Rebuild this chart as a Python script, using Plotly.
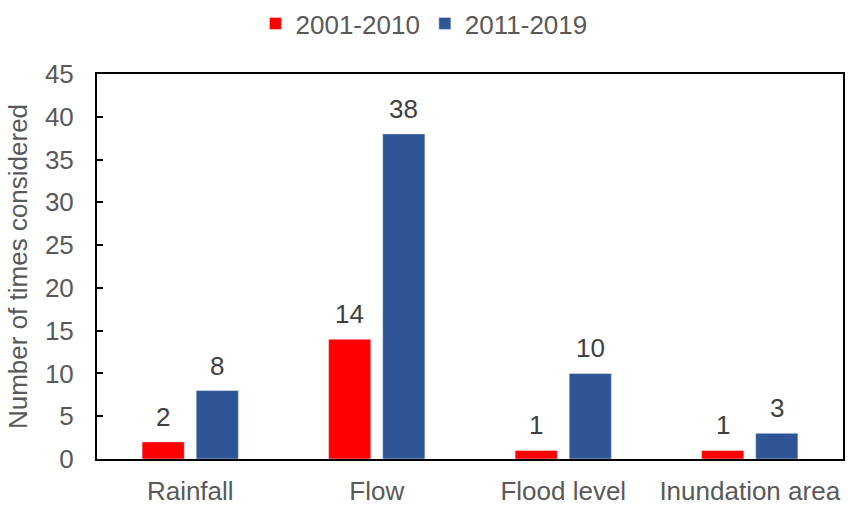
import plotly.graph_objects as go

categories = ['Rainfall', 'Flow', 'Flood level', 'Inundation area']
period_2001_2010 = [2, 14, 1, 1]
period_2011_2019 = [8, 38, 10, 3]

FONT = 'Liberation Sans, Arial, sans-serif'
GREY = '#595959'
SIZE = 26

fig = go.Figure()

series = [
    ('2001-2010', period_2001_2010, '#FF0000', -27),
    ('2011-2019', period_2011_2019, '#2F5597', 27),
]

for name, values, color, shift in series:
    fig.add_trace(go.Bar(
        x=categories,
        y=values,
        name=name,
        marker=dict(color=color),
    ))
    # value labels above each bar
    for cat, val in zip(categories, values):
        fig.add_annotation(
            x=cat, y=val, text=str(val),
            showarrow=False, yanchor='bottom',
            xshift=shift, yshift=8,
            font=dict(family=FONT, size=SIZE, color='#404040'),
        )

fig.update_layout(
    width=848,
    height=506,
    margin=dict(l=97, r=5, t=74, b=47),
    paper_bgcolor='white',
    plot_bgcolor='white',
    font=dict(family=FONT, size=SIZE, color=GREY),
    barmode='group',
    bargap=0.42,
    bargroupgap=0.22,
    showlegend=True,
    legend=dict(
        orientation='h',
        x=0.5, xanchor='center', xref='container',
        y=1.0, yanchor='top', yref='container',
        font=dict(family=FONT, size=SIZE, color=GREY),
        itemwidth=30,
    ),
    xaxis=dict(
        showline=True, linecolor='black', linewidth=2, mirror=True,
        ticks='', showgrid=False, automargin=False,
        tickfont=dict(family=FONT, size=SIZE, color=GREY),
        ticklabelstandoff=8,
    ),
    yaxis=dict(
        range=[0, 45], dtick=5,
        showline=True, linecolor='black', linewidth=2, mirror=True,
        ticks='inside', ticklen=6, tickwidth=2, tickcolor='black',
        showgrid=False, zeroline=False, automargin=False,
        tickfont=dict(family=FONT, size=SIZE, color=GREY),
        ticklabelstandoff=16,
        title=dict(text='Number of times considered', standoff=10,
                   font=dict(family=FONT, size=SIZE, color=GREY)),
    ),
)

fig.write_html('out.html', config={'displayModeBar': False},
               post_script="document.body.style.margin='0';")
